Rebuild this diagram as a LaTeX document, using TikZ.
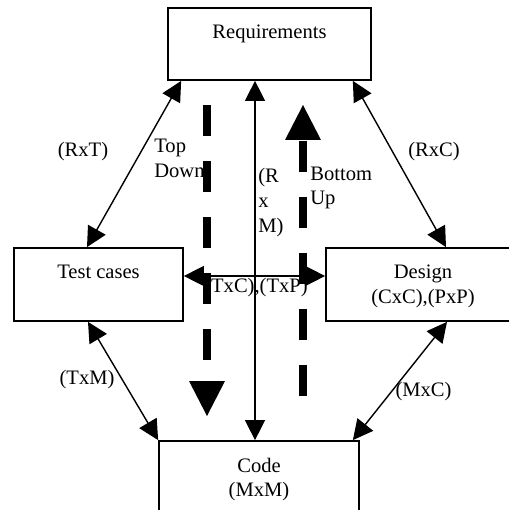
\documentclass[tikz,border=0pt]{standalone}
\usepackage{fontspec}
\setmainfont{Liberation Serif}
\usetikzlibrary{arrows.meta}

\begin{document}
\begin{tikzpicture}[x=0.02cm,y=-0.02cm,font=\fontsize{11.7}{14}\selectfont,
  box/.style={draw,line width=1pt,inner sep=0pt},
  boxtext/.style={inner sep=0pt,align=center,anchor=north,yshift=-10pt},
  link/.style={line width=0.8pt,arrows={Triangle[length=0.4cm,width=0.4cm]-Triangle[length=0.4cm,width=0.4cm]}},
  flow/.style={line width=4.5pt,dash pattern=on 0.62cm off 0.5cm,arrows={-Triangle[length=0.7cm,width=0.72cm,line width=0pt]}},
  tag/.style={inner sep=0pt,align=left}]
\useasboundingbox (0,0) rectangle (509,510);
\node[box,minimum width=4.06cm,minimum height=1.44cm,label={[boxtext]north:Requirements}] (req) at (269.5,44) {};
\node[box,minimum width=3.38cm,minimum height=1.46cm,label={[boxtext]north:Test cases}] (test) at (98.5,284.5) {};
\node[box,minimum width=3.88cm,minimum height=1.46cm,label={[boxtext]north:Design\\(CxC),(PxP)}] (design) at (423,284.5) {};
\node[box,minimum width=4.0cm,minimum height=1.44cm,label={[boxtext]north:Code\\(MxM)}] (code) at (259,477) {};
\draw[link] ([xshift=0.28cm]req.south west) -- ([xshift=-0.23cm]test.north);
\draw[link] ([xshift=-0.38cm]req.south east) -- ([xshift=0.46cm]design.north);
\draw[link] ([xshift=-0.29cm]req.south) -- ([xshift=-0.29cm]req.south |- code.north);
\draw[link] ([yshift=0.17cm]test.east) -- ([yshift=0.17cm]design.west);
\draw[link] ([xshift=-0.21cm]test.south) -- (code.north west);
\draw[link] ([xshift=0.48cm]design.south) -- ([xshift=-0.14cm]code.north east);
\node[tag] (rxt) at (83,152) {(RxT)};
\node[tag] (rxc) at (434,152) {(RxC)};
\node[tag,anchor=west] (topdown) at (154,158.5) {Top\\Down};
\node[tag,anchor=west] (rxm) at (258,202.5) {(R\\x\\M)};
\node[tag,anchor=west] (bottomup) at (310,188) {Bottom\\Up};
\node[tag] (txc) at (256,288) {(TxC),(TxP)};
\node[tag] (txm) at (87,380) {(TxM)};
\node[tag] (mxc) at (423.5,392) {(MxC)};
\coordinate (td1) at (207,105);
\coordinate (td2) at (207,416);
\coordinate (bu1) at (303,396);
\coordinate (bu2) at (303,105);
\draw[flow] (td1) -- (td2);
\draw[flow] (bu1) -- (bu2);
\end{tikzpicture}
\end{document}
